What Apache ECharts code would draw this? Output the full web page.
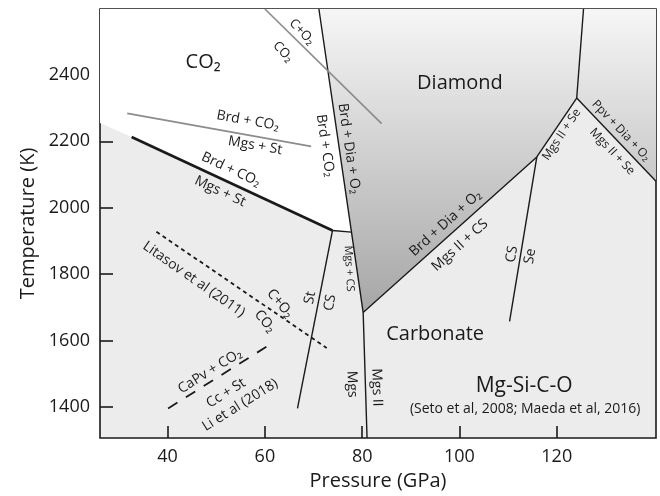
<!DOCTYPE html>
<html>
<head>
<meta charset="utf-8">
<script src="https://cdn.jsdelivr.net/npm/echarts@6/dist/echarts.min.js"></script>
<style>
html, body { margin: 0; padding: 0; background: #fff; }
#main { width: 660px; height: 496px; }
</style>
</head>
<body>
<div id="main"></div>
<script>
// tick values
var pressureTicks = [40, 60, 80, 100, 120];
var temperatureTicks = [1400, 1600, 1800, 2000, 2200, 2400];

// phase fields, [P (GPa), T (K)]
var co2Field = [[26.1, 2598], [71.1, 2598], [77.8, 1926.4], [73.9, 1931.5], [32.6, 2212.9], [26.1, 2255]];
var diamondField = [[71.1, 2598], [140.4, 2598], [140.4, 2079.6], [124.1, 2330], [115.9, 2152.9], [80.2, 1684.4], [77.8, 1926.4]];

// phase boundaries
var brdCo2Line = [[32.6, 2212.9], [73.9, 1931.5]];
var co2StubLine = [[73.9, 1931.5], [77.8, 1926.4]];
var brdDiaLine = [[71.1, 2598], [77.8, 1926.4], [80.2, 1684.4], [81.0, 1307]];
var stCsLine = [[73.9, 1931.5], [66.7, 1396]];
var carbLine = [[80.2, 1684.4], [115.9, 2152.9], [124.1, 2330], [125.5, 2598]];
var ppvLine = [[124.1, 2330], [140.4, 2079.6]];
var csSeLine = [[115.9, 2152.9], [110.3, 1658.3]];
var metaLine = [[31.7, 2283.8], [69.5, 2184.7]];
var co2BreakLine = [[60.0, 2598], [84.0, 2252.9]];
var litasovLine = [[37.7, 1927.6], [72.7, 1578.1]];
var liLine = [[40.1, 1396.1], [61.7, 1594.3]];

// annotations: text, anchor [P, T], rotation (deg), font size
var notes = [
    { text: 'CO₂', at: [47.3, 2439], rot: 0, size: 20 },
    { text: 'Diamond', at: [100.1, 2373], rot: 0, size: 20 },
    { text: 'Carbonate', at: [95.0, 1619], rot: 0, size: 20 },
    { text: 'Mg-Si-C-O', at: [113.3, 1463], rot: 0, size: 21 },
    { text: '(Seto et al, 2008; Maeda et al, 2016)', at: [113.5, 1394], rot: 0, size: 14 },
    { text: 'Brd + CO₂', at: [56.5, 2262], rot: -10, size: 14 },
    { text: 'Mgs + St', at: [58.0, 2187], rot: -10, size: 14 },
    { text: 'Brd + CO₂', at: [53.0, 2115], rot: -25, size: 14 },
    { text: 'Mgs + St', at: [50.8, 2049], rot: -25, size: 14 },
    { text: 'C+O₂', at: [67.6, 2529], rot: -47, size: 13 },
    { text: 'CO₂', at: [63.7, 2469], rot: -47, size: 13 },
    { text: 'Brd + CO₂', at: [72.4, 2187], rot: -81.6, size: 14 },
    { text: 'Brd + Dia + O₂', at: [77.3, 2178], rot: -81.6, size: 14 },
    { text: 'Mgs + CS', at: [77.3, 1817], rot: -87, size: 11 },
    { text: 'St', at: [69.3, 1729], rot: 79, size: 14 },
    { text: 'CS', at: [73.4, 1714], rot: 79, size: 14 },
    { text: 'Mgs', at: [77.9, 1469], rot: -88, size: 14 },
    { text: 'Mgs II', at: [83.0, 1459], rot: -88, size: 14 },
    { text: 'Brd + Dia + O₂', at: [97.1, 1953], rot: 42, size: 14 },
    { text: 'Mgs II + CS', at: [100.1, 1887], rot: 42, size: 14 },
    { text: 'CS', at: [110.8, 1860], rot: 80.5, size: 14 },
    { text: 'Se', at: [114.5, 1854], rot: 80.5, size: 14 },
    { text: 'Mgs II + Se', at: [121.0, 2220], rot: 56, size: 12 },
    { text: 'Ppv + Dia + O₂', at: [133.2, 2232], rot: -46.4, size: 12 },
    { text: 'Mgs II + Se', at: [131.4, 2169], rot: -46.4, size: 12 },
    { text: 'Litasov et al (2011)', at: [45.4, 1784], rot: -35, size: 14 },
    { text: 'C+O₂', at: [63.1, 1712], rot: -50, size: 14 },
    { text: 'CO₂', at: [60.0, 1658], rot: -50, size: 14 },
    { text: 'CaPv + CO₂', at: [48.7, 1508], rot: 32, size: 14 },
    { text: 'Cc + St', at: [52.0, 1442], rot: 32, size: 14 },
    { text: 'Li et al (2018)', at: [54.9, 1406], rot: 32, size: 14 }
];

var FONT = '"Open Sans", "DejaVu Sans", sans-serif';
var INK = '#1a1a1a';

function boundary(data, color, width, dash) {
    return {
        type: 'line',
        data: data,
        symbol: 'none',
        silent: true,
        z: 3,
        lineStyle: { color: color, width: width, type: dash || 'solid', cap: 'butt' }
    };
}

function plain(v) {
    return String(v);
}

var fields = [co2Field, diamondField];

var myChart = echarts.init(document.getElementById('main'));
var option = {
    animation: false,
    grid: {
        left: 100, right: 4, top: 9, bottom: 57,
        show: true,
        backgroundColor: '#ececec',
        borderColor: INK,
        borderWidth: 1.6
    },
    xAxis: {
        type: 'value',
        min: 26.1,
        max: 140.4,
        name: 'Pressure (GPa)',
        nameLocation: 'middle',
        nameGap: 33,
        nameTextStyle: { fontFamily: FONT, fontSize: 20, color: INK },
        axisLine: { show: false },
        splitLine: { show: false },
        axisTick: { inside: true, length: 12, customValues: pressureTicks, lineStyle: { color: INK, width: 1.6 } },
        axisLabel: { customValues: pressureTicks, formatter: plain, margin: 10, fontFamily: FONT, fontSize: 18, color: INK }
    },
    yAxis: {
        type: 'value',
        min: 1307,
        max: 2598,
        name: 'Temperature (K)',
        nameLocation: 'middle',
        nameGap: 62,
        nameTextStyle: { fontFamily: FONT, fontSize: 20, color: INK },
        axisLine: { show: false },
        splitLine: { show: false },
        axisTick: { inside: true, length: 13, customValues: temperatureTicks, lineStyle: { color: INK, width: 1.6 } },
        axisLabel: { customValues: temperatureTicks, formatter: plain, margin: 10, fontFamily: FONT, fontSize: 18, color: INK }
    },
    series: [
        {
            type: 'custom',
            silent: true,
            z: 1,
            data: [0, 1],
            renderItem: function (params, api) {
                var pts = fields[params.dataIndex].map(function (p) { return api.coord(p); });
                var fill = params.dataIndex === 0 ? '#ffffff' :
                    new echarts.graphic.LinearGradient(0, 0, 0, 1, [
                        { offset: 0, color: '#f6f6f6' },
                        { offset: 1, color: '#a6a6a6' }
                    ]);
                return { type: 'polygon', shape: { points: pts }, style: { fill: fill } };
            }
        },
        boundary(brdCo2Line, INK, 2.6),
        boundary(co2StubLine, INK, 1.4),
        boundary(brdDiaLine, INK, 1.4),
        boundary(stCsLine, INK, 1.4),
        boundary(carbLine, INK, 1.4),
        boundary(ppvLine, INK, 1.4),
        boundary(csSeLine, INK, 1.4),
        boundary(metaLine, '#8c8c8c', 1.7),
        boundary(co2BreakLine, '#8c8c8c', 1.7),
        boundary(litasovLine, INK, 1.8, [4, 3.5]),
        boundary(liLine, INK, 1.8, [11, 10]),
        {
            type: 'custom',
            silent: true,
            z: 5,
            data: notes.map(function (n) { return n.at; }),
            renderItem: function (params, api) {
                var n = notes[params.dataIndex];
                var pt = api.coord([api.value(0), api.value(1)]);
                return {
                    type: 'text',
                    x: pt[0],
                    y: pt[1],
                    rotation: n.rot * Math.PI / 180,
                    style: {
                        text: n.text,
                        fontFamily: FONT,
                        fontSize: n.size,
                        fill: INK,
                        align: 'center',
                        verticalAlign: 'middle'
                    }
                };
            }
        }
    ]
};
myChart.setOption(option);
</script>
</body>
</html>
